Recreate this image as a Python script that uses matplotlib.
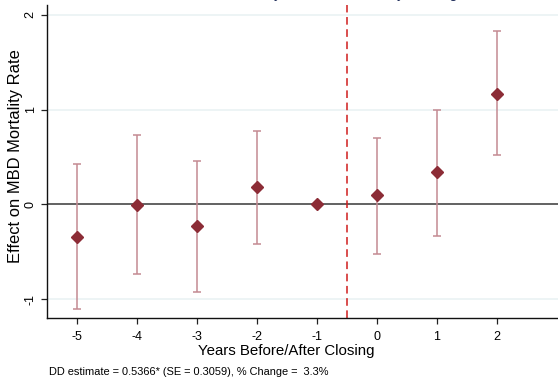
import matplotlib
matplotlib.use("Agg")
from matplotlib import pyplot as plt

plt.rcParams['font.family'] = ['Liberation Sans', 'DejaVu Sans']

years = [-5, -4, -3, -2, -1, 0, 1, 2]
effect = [-0.34, -0.01, -0.23, 0.18, 0.0, 0.095, 0.34, 1.17]
ci_low = [-1.11, -0.74, -0.93, -0.42, 0.0, -0.52, -0.33, 0.52]
ci_high = [0.43, 0.73, 0.46, 0.77, 0.0, 0.70, 1.00, 1.83]
note = "DD estimate = 0.5366* (SE = 0.3059), % Change =  3.3%"

fig = plt.figure(figsize=(5.58, 3.77), dpi=100)
ax = fig.add_axes([47 / 558, 59 / 377, 511 / 558, 313 / 377])

for v in [-1, 1, 2]:
    ax.axhline(v, color='#eaf2f3', lw=1.2, zorder=0)
ax.axhline(0, color='#555555', lw=1.3, zorder=1)
ax.axvline(-0.5, color='#d01c1c', lw=1.1, ls=(0, (5, 3)), zorder=1)

ci_x = [x for x, lo, hi in zip(years, ci_low, ci_high) if hi > lo]
ci_lo = [lo for lo, hi in zip(ci_low, ci_high) if hi > lo]
ci_hi = [hi for lo, hi in zip(ci_low, ci_high) if hi > lo]
cap = 0.067
ax.vlines(ci_x, ci_lo, ci_hi, color='#c48a92', lw=1.1, zorder=2)
ax.hlines(ci_lo, [x - cap for x in ci_x], [x + cap for x in ci_x], color='#c48a92', lw=1.1, zorder=2)
ax.hlines(ci_hi, [x - cap for x in ci_x], [x + cap for x in ci_x], color='#c48a92', lw=1.1, zorder=2)
ax.plot(years, effect, 'D', color='#8c2c36', ms=6.5, ls='none', zorder=3)

ax.set_xlim(-5.5, 3.02)
ax.set_ylim(-1.2, 2.105)
ax.set_xticks(years)
ax.set_yticks([-1, 0, 1, 2])
ax.set_xticklabels([str(y) for y in years], fontsize=9)
ax.set_yticklabels(['-1', '0', '1', '2'], fontsize=9, rotation=90, va='center')
ax.tick_params(direction='out', length=4, width=0.9, color='#222222')
ax.tick_params(axis='x', pad=5)
for s in ['top', 'right']:
    ax.spines[s].set_visible(False)
for s in ['left', 'bottom']:
    ax.spines[s].set_color('#111111')
    ax.spines[s].set_linewidth(1.0)

ax.set_xlabel('Years Before/After Closing', fontsize=10.8)
ax.set_ylabel('Effect on MBD Mortality Rate', fontsize=11.9)
ax.xaxis.set_label_coords(0.468, -0.082)
ax.yaxis.set_label_coords(-0.047, 0.518)

fig.text(49 / 558, 1 - 375 / 377, note, fontsize=7.9, va='baseline', ha='left')
fig.text(458 / 558, 1.006, 'Event Study Estimates: Facility Closing', fontsize=10.5,
         color='#1f2d5a', ha='right', va='baseline')

fig.savefig('out.png', dpi=100)
